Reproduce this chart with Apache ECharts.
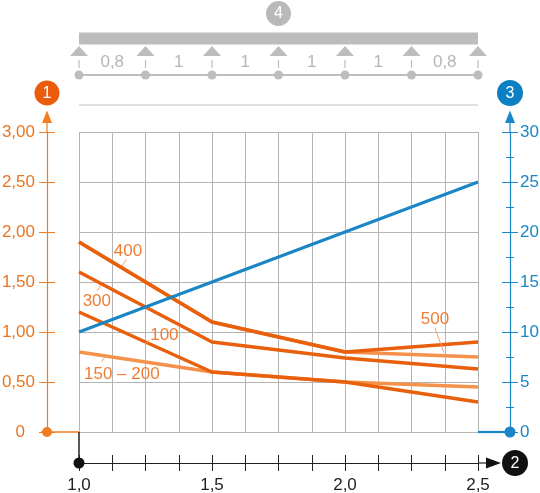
<!DOCTYPE html>
<html>
<head>
<meta charset="utf-8">
<script src="https://cdn.jsdelivr.net/npm/echarts/dist/echarts.min.js"></script>
<style>
html,body{margin:0;padding:0;background:#fff;}
#chart{width:540px;height:493px;}
</style>
</head>
<body>
<div id="chart"></div>
<script>
// ---- data ----
const xValues = [1.0, 1.5, 2.0, 2.5];
const load100 = [1.20, 0.60, 0.50, 0.30];
const load150_200 = [0.80, 0.60, 0.50, 0.45];
const load300 = [1.60, 0.90, 0.74, 0.63];
const load400 = [1.90, 1.10, 0.80, 0.90];
const load500 = [1.90, 1.10, 0.80, 0.75];
const rightValues = [10, 15, 20, 25];
const supportPositions = [1.0, 1.25, 1.5, 1.75, 2.0, 2.25, 2.5];
const spanLabels = ['0,8', '1', '1', '1', '1', '0,8'];
const annotationTexts = ['400', '300', '100', '150 – 200', '500'];
const annotationAt = [[1.184, 1.81], [1.067, 1.31], [1.321, 0.97], [1.161, 0.575], [2.338, 1.125]];
const leaderFrom = [[1.179, 1.727], [1.069, 1.41], [1.264, 0.92], [1.085, 0.703], [2.338, 1.04]];
const leaderTo = [[1.161, 1.66], [1.082, 1.47], [1.248, 0.877], [1.100, 0.76], [2.372, 0.793]];

const FONT = 'Liberation Sans, Arial, sans-serif';
const DARK = '#e85f0c';
const LIGHT = '#f4914a';
const ORANGE_AXIS = '#f07d22';
const ORANGE_TEXT = '#ea7520';
const BLUE = '#1a86c6';
const GRID = '#b4b4b4';
const BEAM = '#bdbdbd';

function pairs(ys) { return xValues.map((x, i) => [x, ys[i]]); }
function comma(v, d) { return v.toFixed(d).replace('.', ','); }

const chart = echarts.init(document.getElementById('chart'), null, {renderer: 'canvas'});

const grid = {left: 79, right: 62, top: 132, bottom: 61, outerBoundsMode: 'none', containLabel: false};
const Y_OFF = 32, X_OFF = 31;

const lineSeries = (name, ys, color, yAxisIndex, z, width) => ({
  name, type: 'line', data: pairs(ys), xAxisIndex: 0, yAxisIndex,
  showSymbol: false, symbol: 'none', z,
  lineStyle: {color, width}, silent: true
});

chart.setOption({
  animation: false,
  grid,
  xAxis: [
    {type: 'value', min: 1, max: 2.5, interval: 0.125,
      axisLine: {show: false, onZero: false}, axisTick: {show: false}, axisLabel: {show: false},
      splitLine: {show: true, lineStyle: {color: GRID, width: 1}}},
    {type: 'value', position: 'bottom', offset: X_OFF, min: 1, max: 2.5, interval: 0.125,
      axisLine: {show: true, onZero: false, lineStyle: {color: '#222', width: 1.2}},
      axisTick: {show: true, length: 8, lineStyle: {color: '#222', width: 1}},
      axisLabel: {show: true, margin: 14, color: '#222', fontSize: 17, fontFamily: FONT,
        formatter: v => Math.abs(v * 2 - Math.round(v * 2)) < 1e-6 ? comma(v, 1) : ''},
      splitLine: {show: false}},
    {type: 'value', position: 'bottom', offset: X_OFF, min: 1, max: 2.5, interval: 0.125,
      axisLine: {show: false, onZero: false},
      axisTick: {show: true, inside: true, length: 8, lineStyle: {color: '#222', width: 1}},
      axisLabel: {show: false}, splitLine: {show: false}}
  ],
  yAxis: [
    {type: 'value', position: 'left', offset: Y_OFF, min: 0, max: 3, interval: 0.5,
      axisLine: {show: true, onZero: false, lineStyle: {color: ORANGE_AXIS, width: 1.2}},
      axisTick: {show: true, length: 8, lineStyle: {color: ORANGE_AXIS, width: 1}},
      axisLabel: {show: true, margin: 12, color: ORANGE_TEXT, fontSize: 17, fontFamily: FONT,
        formatter: v => v === 0 ? '{z|0}' : comma(v, 2),
        rich: {z: {color: ORANGE_TEXT, fontSize: 17, fontFamily: FONT, padding: [0, 10, 0, 0]}}},
      splitLine: {show: true, lineStyle: {color: GRID, width: 1}}},
    {type: 'value', position: 'left', offset: Y_OFF, min: 0, max: 3, interval: 0.5,
      axisLine: {show: false, onZero: false},
      axisTick: {show: true, inside: true, length: 8, lineStyle: {color: ORANGE_AXIS, width: 1}},
      axisLabel: {show: false}, splitLine: {show: false}},
    {type: 'value', position: 'right', offset: Y_OFF, min: 0, max: 30, interval: 5,
      axisLine: {show: true, onZero: false, lineStyle: {color: BLUE, width: 1.2}},
      axisTick: {show: true, length: 8, lineStyle: {color: BLUE, width: 1}},
      minorTick: {show: true, splitNumber: 2, length: 4, lineStyle: {color: BLUE, width: 1}},
      axisLabel: {show: true, margin: 10, color: BLUE, fontSize: 17, fontFamily: FONT},
      splitLine: {show: false}, minorSplitLine: {show: false}},
    {type: 'value', position: 'right', offset: Y_OFF, min: 0, max: 30, interval: 5,
      axisLine: {show: false, onZero: false},
      axisTick: {show: true, inside: true, length: 8, lineStyle: {color: BLUE, width: 1}},
      minorTick: {show: true, splitNumber: 2, length: 4, lineStyle: {color: BLUE, width: 1}},
      axisLabel: {show: false}, splitLine: {show: false}}
  ],
  series: [
    lineSeries('150 – 200', load150_200, LIGHT, 0, 2, 3.5),
    lineSeries('500', load500, LIGHT, 0, 2, 3.5),
    lineSeries('100', load100, DARK, 0, 3, 3.5),
    lineSeries('300', load300, DARK, 0, 3, 3.5),
    lineSeries('400', load400, DARK, 0, 3, 3.5),
    lineSeries('right', rightValues, BLUE, 2, 4, 3)
  ]
});

// ---- decorations (beam sketch, axis arrows, badges, annotations) ----
const px = (x, y) => chart.convertToPixel({xAxisIndex: 0, yAxisIndex: 0}, [x, y]);
const x0 = px(1, 0)[0], x1 = px(2.5, 0)[0];
const yBottom = px(1, 0)[1], yTop = px(1, 3)[1];
const leftX = x0 - Y_OFF, rightX = x1 + Y_OFF, botY = yBottom + X_OFF;

const g = [];
const line = (a, b, c, d, color, w) => g.push({type: 'line', shape: {x1: a, y1: b, x2: c, y2: d}, style: {stroke: color, lineWidth: w}, z: 50, silent: true});
const dot = (cx, cy, r, color) => g.push({type: 'circle', shape: {cx, cy, r}, style: {fill: color}, z: 60, silent: true});
const text = (x, y, t, color, size, align) => g.push({type: 'text', x, y, style: {text: t, fill: color, fontSize: size, fontFamily: FONT, align: align || 'center', verticalAlign: 'middle'}, z: 70, silent: true});
const badge = (cx, cy, r, color, t) => { dot(cx, cy, r, color); text(cx, cy + 0.5, t, '#fff', 16); };

// separator
line(x0, 105, x1, 105, '#c4c4c4', 1.2);
// beam
g.push({type: 'rect', shape: {x: x0, y: 32.5, width: x1 - x0, height: 12}, style: {fill: BEAM}, z: 50, silent: true});
line(x0, 75, x1, 75, BEAM, 2);
const sx = supportPositions.map(v => px(v, 0)[0]);
sx.forEach(s => {
  g.push({type: 'polygon', shape: {points: [[s, 46], [s - 9, 56], [s + 9, 56]]}, style: {fill: BEAM}, z: 50, silent: true});
  line(s, 60, s, 68, BEAM, 1.2);
  dot(s, 75, 4.5, BEAM);
});
spanLabels.forEach((t, i) => text((sx[i] + sx[i + 1]) / 2, 62, t, '#b5b5b5', 17));
badge((x0 + x1) / 2, 13.5, 12.5, '#b9b9b9', '4');

// left axis extension + arrow
line(leftX, yTop, leftX, 122, ORANGE_AXIS, 1.2);
g.push({type: 'polygon', shape: {points: [[leftX, 110.5], [leftX - 5, 123], [leftX + 5, 123]]}, style: {fill: ORANGE_AXIS}, z: 55, silent: true});
badge(leftX, 93, 12.5, '#ea5b0c', '1');
line(leftX - 6, yBottom, x0, yBottom, ORANGE_AXIS, 1.5);
dot(leftX, yBottom, 5, ORANGE_AXIS);

// right axis extension + arrow
line(rightX, yTop, rightX, 122, BLUE, 1.2);
g.push({type: 'polygon', shape: {points: [[rightX, 110.5], [rightX - 5, 123], [rightX + 5, 123]]}, style: {fill: BLUE}, z: 55, silent: true});
badge(rightX, 93, 13, '#0c80c2', '3');
line(x1, yBottom, rightX, yBottom, BLUE, 2.2);
dot(rightX, yBottom, 5.5, BLUE);

// bottom axis
line(x0, yBottom, x0, botY, '#222', 1.5);
dot(x0, botY, 5.5, '#111');
line(x1, botY, x1 + 10, botY, '#222', 1.2);
g.push({type: 'polygon', shape: {points: [[x1 + 23, botY], [x1 + 8, botY - 5.5], [x1 + 8, botY + 5.5]]}, style: {fill: '#111'}, z: 55, silent: true});
badge(x1 + 37, botY, 13, '#111', '2');

// annotations
annotationTexts.forEach((t, i) => {
  const p = px(annotationAt[i][0], annotationAt[i][1]);
  const a = px(leaderFrom[i][0], leaderFrom[i][1]);
  const b = px(leaderTo[i][0], leaderTo[i][1]);
  line(a[0], a[1], b[0], b[1], '#f2a06a', 1);
  text(p[0], p[1], t, '#ee7d32', 17);
});

chart.setOption({graphic: g});
</script>
</body>
</html>
